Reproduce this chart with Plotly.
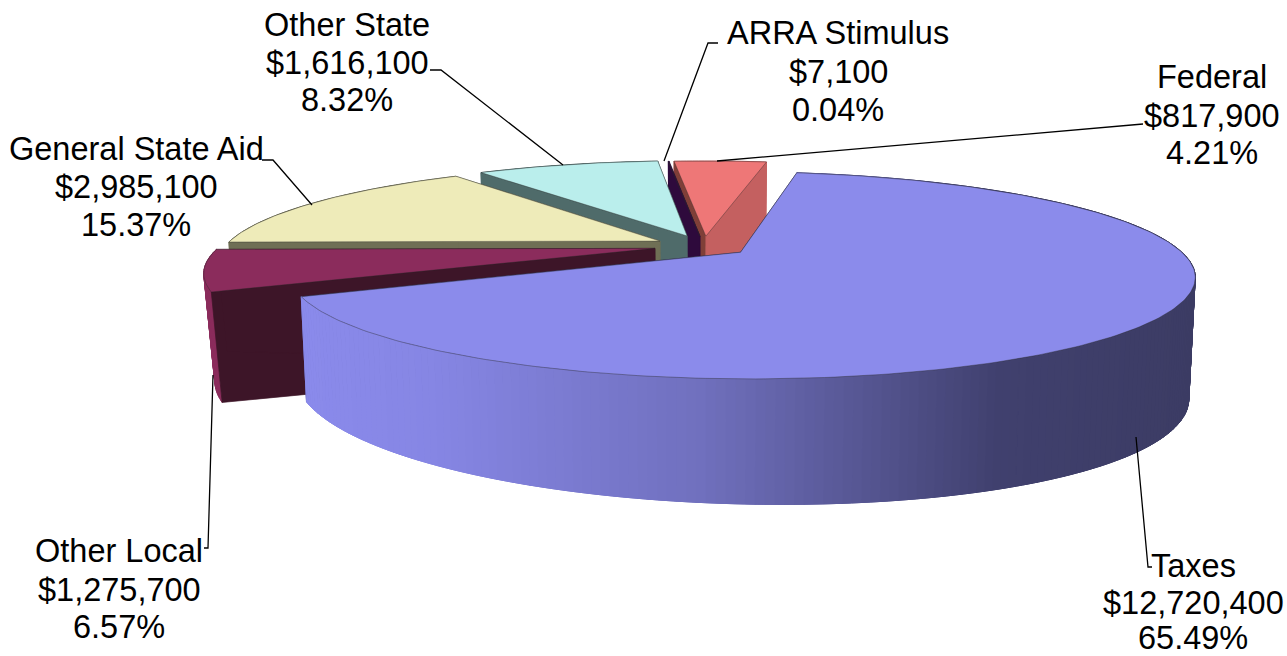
import math
import plotly.graph_objects as go

# ---- data (clockwise order, starting with the large slice) ----
categories = ["Taxes", "Other Local", "General State Aid", "Other State", "ARRA Stimulus", "Federal"]
amounts = [12720400, 1275700, 2985100, 1616100, 7100, 817900]
amount_labels = ["$12,720,400", "$1,275,700", "$2,985,100", "$1,616,100", "$7,100", "$817,900"]
percent_labels = ["65.49%", "6.57%", "15.37%", "8.32%", "0.04%", "4.21%"]

# ---- styles ----
explode = [0.105, 0.115, 0.115, 0.115, 0.105, 0.105]
depth_extra = [0, 8, 0, 0, 0, 0]
base_shrink = [0.987, 0.978, 0.987, 0.987, 0.987, 0.987]
top_colors = ["#8B8BEB", "#8B2C5C", "#EEEBB9", "#BAEEEC", "#2E0A3C", "#EE7777"]
rim_colors = ["#8B8BEB", "#8B2C5C", "#6F6F55", "#4F6B6A", "#2E0A3C", "#C46060"]
start_cut = ["#3A3A66", "#3D1528", "#6F6F55", "#4F6B6A", "#2E0A3C", "#7F3F38"]
end_cut = ["#3A3A66", "#3D1528", "#6F6F55", "#4F6B6A", "#2E0A3C", "#C46060"]
label_center = [1193, 119, 136, 347, 838, 1212]
label_lines_y = [(566, 603, 638), (551, 590, 627), (149, 187, 225), (25, 63, 100), (33, 72, 110), (77, 116, 153)]
leaders = [
    [(1152, 567), (1148, 567), (1136, 437)],
    [(204, 548), (208, 548), (213, 375)],
    [(262, 160), (273, 160), (312, 205)],
    [(430, 70), (441, 70), (563, 165)],
    [(718, 43), (708, 43), (664, 161)],
    [(1143, 124), (717, 161)],
]
FONT = "Liberation Sans, Arial, sans-serif"
FONT_SIZE = 32.5
START_COMPASS = 10.0
CX, CY, A, K, P = 704.0, 246.0, 435.0, 95.6, 0.22


def project(X, Y):
    f = 1.0 / (1.0 + P * Y)
    return CX + A * X * f, CY - K * Y * f


def lower(X, Y, extra=0, shrink=0.987):
    x, y = project(X, Y)
    return CX + (x - CX) * shrink, y + 105 + extra + 10.2 * X - 18.2 * Y


def rim(angle, off):
    r = math.radians(angle)
    return off[0] + math.sin(r), off[1] + math.cos(r)


def arc_points(a0, a1, step=1.0):
    n = max(1, int(abs(a1 - a0) / step))
    return [a0 + (a1 - a0) * i / n for i in range(n + 1)]


def poly(points, fill, line=None, width=0.7):
    xs = [p[0] for p in points] + [points[0][0]]
    ys = [p[1] for p in points] + [points[0][1]]
    return go.Scatter(x=xs, y=ys, mode="lines", fill="toself", fillcolor=fill,
                      line=dict(color=line or fill, width=width), hoverinfo="skip", showlegend=False)


def mix(stops, x):
    if x <= stops[0][0]:
        return stops[0][1]
    for (x0, c0), (x1, c1) in zip(stops, stops[1:]):
        if x <= x1:
            t = (x - x0) / (x1 - x0)
            return tuple(c0[i] + (c1[i] - c0[i]) * t for i in range(3))
    return stops[-1][1]


gradient = [(303, (138, 138, 235)), (430, (134, 134, 228)), (700, (112, 112, 190)),
            (850, (88, 88, 150)), (1000, (64, 64, 110)), (1195, (60, 60, 100))]

total = sum(amounts)
spans = [v / total * 360.0 for v in amounts]
starts = []
acc = START_COMPASS
for s in spans:
    starts.append(acc)
    acc += s

fig = go.Figure()
for i in reversed(range(len(amounts))):
    a0, a1 = starts[i], starts[i] + spans[i]
    mid = math.radians((a0 + a1) / 2)
    off = (explode[i] * math.sin(mid), explode[i] * math.cos(mid))
    ex, sh = depth_extra[i], base_shrink[i]
    apex_t, apex_b = project(*off), lower(*off, ex, sh)
    r0, r1 = rim(a0, off), rim(a1, off)
    # curved outer wall, one strip per step
    angles = arc_points(a0, a1)
    rims = [rim(a, off) for a in angles]
    for r_a, r_b in zip(rims, rims[1:]):
        p = [project(*r_a), project(*r_b), lower(*r_b, ex, sh), lower(*r_a, ex, sh)]
        if i == 0:
            c = mix(gradient, (p[0][0] + p[1][0]) / 2)
            col = "rgb(%d,%d,%d)" % tuple(round(v) for v in c)
        else:
            col = rim_colors[i]
        fig.add_trace(poly(p, col, width=1))
    # straight cut faces
    fig.add_trace(poly([apex_t, project(*r0), lower(*r0, ex, sh), apex_b], start_cut[i]))
    fig.add_trace(poly([apex_t, project(*r1), lower(*r1, ex, sh), apex_b], end_cut[i]))
    if i == 0:
        # the large slice's front wall sits over its own hidden cut faces
        for r_a, r_b in zip(rims, rims[1:]):
            p = [project(*r_a), project(*r_b), lower(*r_b, ex, sh), lower(*r_a, ex, sh)]
            c = mix(gradient, (p[0][0] + p[1][0]) / 2)
            col = "rgb(%d,%d,%d)" % tuple(round(v) for v in c)
            fig.add_trace(poly(p, col, width=1))
    # upper face
    fig.add_trace(poly([apex_t] + [project(*r) for r in rims], top_colors[i], line="rgba(40,40,40,0.55)"))

shapes = []
for pts in leaders:
    path = "M " + " L ".join("%g,%g" % p for p in pts)
    shapes.append(dict(type="path", path=path, xref="x", yref="y", line=dict(color="#000000", width=1.3)))

annotations = []
for i, name in enumerate(categories):
    for txt, y in zip((name, amount_labels[i], percent_labels[i]), label_lines_y[i]):
        annotations.append(dict(x=label_center[i], y=y, xref="x", yref="y", text=txt, showarrow=False,
                                xanchor="center", yanchor="middle",
                                font=dict(family=FONT, size=FONT_SIZE, color="#000000")))

fig.update_layout(
    width=1287, height=656, margin=dict(l=0, r=0, t=0, b=0),
    paper_bgcolor="#FFFFFF", plot_bgcolor="#FFFFFF", showlegend=False,
    xaxis=dict(range=[0, 1287], visible=False, fixedrange=True),
    yaxis=dict(range=[656, 0], visible=False, fixedrange=True),
    shapes=shapes, annotations=annotations,
)
fig.write_html("out.html", config={"displayModeBar": False},
               post_script="document.body.style.margin='0';document.body.style.overflow='hidden';")
